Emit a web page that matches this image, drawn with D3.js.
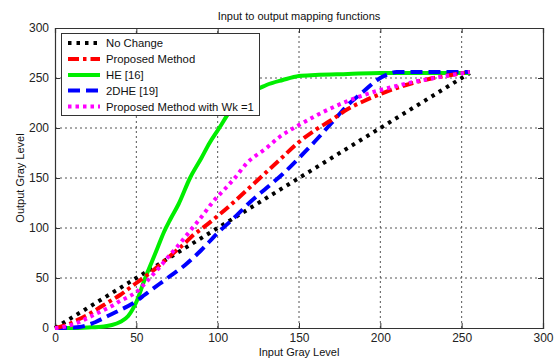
<!DOCTYPE html>
<html>
<head>
<meta charset="utf-8">
<script src="https://cdn.jsdelivr.net/npm/d3@7"></script>
<style>
  body { margin: 0; background: #fff; }
  text { font-family: "Liberation Sans", Arial, sans-serif; }
</style>
</head>
<body>
<svg id="chart" width="556" height="358"></svg>
<script>
// input gray levels (x) sampled for each curve
const noChangeX = [0, 255];
const noChangeY = [0, 255];

const proposedX = [0, 5, 10, 15, 20, 25, 30, 35, 40, 45, 50, 55, 60, 65, 70, 75, 80, 85, 90, 97, 100, 110, 118, 130, 138, 150, 160, 170, 180, 190, 200, 210, 220, 230, 240, 255];
const proposedY = [0, 2, 5, 9, 13, 18, 23, 28, 33, 39, 45, 51, 57, 64, 71, 78, 85, 93, 99, 108, 112, 126, 138, 156, 168, 186, 198, 208, 219, 227, 234, 240, 245, 249, 252, 256];

const heX = [0, 10, 20, 30, 35, 40, 45, 50, 55, 60, 63, 67, 71, 76, 83, 90, 95, 101, 108, 112, 115, 120, 126, 130, 140, 150, 160, 180, 200, 220, 240, 255];
const heY = [0, 0, 0.5, 1.5, 3, 6, 12, 26, 48, 68, 80, 96, 109, 124, 150, 170, 185, 200, 218, 226, 230, 236, 240, 243, 248, 252, 253, 254, 255, 255, 255, 255];

const dheX = [0, 10, 15, 20, 25, 30, 35, 40, 45, 50, 55, 60, 65, 70, 80, 90, 100, 110, 120, 130, 140, 150, 160, 170, 180, 190, 198, 205, 210, 255];
const dheY = [0, 0.5, 1, 3, 6, 10, 14, 18, 22, 27, 33, 39, 45, 51, 63, 78, 95, 110, 126, 140, 154, 170, 187, 205, 223, 237, 248, 254, 256, 256];

const wk1X = [0, 5, 10, 15, 20, 25, 30, 35, 40, 45, 50, 55, 60, 65, 70, 75, 80, 85, 90, 97, 105, 110, 118, 130, 138, 150, 160, 170, 180, 190, 200, 210, 220, 230, 240, 255];
const wk1Y = [0, 1, 3, 6, 10, 14, 18, 22, 27, 31, 36, 44, 53, 62, 72, 81, 91, 101, 111, 126, 140, 149, 165, 180, 191, 203, 212, 220, 227, 233, 238, 242, 246, 249, 252, 256];

const seriesNames = ["No Change", "Proposed Method", "HE [16]", "2DHE [19]", "Proposed Method with Wk =1"];
const xTicks = [0, 50, 100, 150, 200, 250, 300];
const yTicks = [0, 50, 100, 150, 200, 250, 300];

const m = { left: 55, right: 13, top: 28, bottom: 30 }; // margins
const W = 556, H = 358;

const svg = d3.select("#chart");

const x = d3.scaleLinear().domain([0, 300]).range([m.left, W - m.right]);
const y = d3.scaleLinear().domain([0, 300]).range([H - m.bottom, m.top]);

// grid
const grid = svg.append("g").attr("stroke", "#555").attr("stroke-width", 1).attr("stroke-dasharray", "2,3");
xTicks.slice(1, -1).forEach(t => {
  grid.append("line").attr("x1", x(t)).attr("x2", x(t)).attr("y1", y(0)).attr("y2", y(300));
});
yTicks.slice(1, -1).forEach(t => {
  grid.append("line").attr("x1", x(0)).attr("x2", x(300)).attr("y1", y(t)).attr("y2", y(t));
});

// axes
svg.append("g")
  .attr("transform", "translate(0," + y(0) + ")")
  .call(d3.axisBottom(x).tickValues(xTicks).tickSize(-5).tickPadding(5));
svg.append("g")
  .attr("transform", "translate(" + x(0) + ",0)")
  .call(d3.axisLeft(y).tickValues(yTicks).tickSize(-5).tickPadding(6));
svg.append("g")
  .attr("transform", "translate(0," + y(300) + ")")
  .call(d3.axisTop(x).tickValues(xTicks).tickSize(-5).tickFormat(""));
svg.append("g")
  .attr("transform", "translate(" + x(300) + ",0)")
  .call(d3.axisRight(y).tickValues(yTicks).tickSize(-5).tickFormat(""));

svg.selectAll(".domain").attr("stroke", "#333").attr("stroke-width", 1.2);
svg.selectAll(".tick line").attr("stroke", "#333");
svg.selectAll(".tick text").attr("font-size", "12px").attr("fill", "#222")
  .style("font-family", "'Liberation Sans', Arial, sans-serif");

// curves
const series = [
  { xs: noChangeX, ys: noChangeY, color: "#000", width: 4, dash: "3.5,5" },
  { xs: proposedX, ys: proposedY, color: "#ff0000", width: 4, dash: "11,4,3.5,4" },
  { xs: heX, ys: heY, color: "#00ee00", width: 4, dash: null },
  { xs: dheX, ys: dheY, color: "#0000ff", width: 4, dash: "12,6" },
  { xs: wk1X, ys: wk1Y, color: "#ff00ff", width: 4, dash: "3.5,4" }
];

const line = d3.line()
  .x(d => x(d[0]))
  .y(d => y(d[1]))
  .curve(d3.curveMonotoneX);

const drawOrder = [0, 2, 3, 1, 4];
drawOrder.forEach(i => {
  const s = series[i];
  const pts = s.xs.map((v, k) => [v, s.ys[k]]);
  svg.append("path")
    .datum(pts)
    .attr("fill", "none")
    .attr("stroke", s.color)
    .attr("stroke-width", s.width)
    .attr("stroke-dasharray", s.dash)
    .attr("d", line);
});

// legend
const leg = svg.append("g");
leg.append("rect")
  .attr("x", 61.5).attr("y", 33.5).attr("width", 198).attr("height", 82)
  .attr("fill", "#fff").attr("stroke", "#333").attr("stroke-width", 1);
const legY = [43, 59, 75, 90.5, 106.5];
series.forEach((s, i) => {
  leg.append("line")
    .attr("x1", 68).attr("x2", 100)
    .attr("y1", legY[i]).attr("y2", legY[i])
    .attr("stroke", s.color).attr("stroke-width", s.width)
    .attr("stroke-dasharray", s.dash);
  leg.append("text")
    .attr("x", 106).attr("y", legY[i] + 4)
    .attr("font-size", "11.3px").attr("fill", "#111")
    .text(seriesNames[i]);
});

// labels
svg.append("text")
  .attr("x", (x(0) + x(300)) / 2).attr("y", 20)
  .attr("text-anchor", "middle").attr("font-size", "11px").attr("fill", "#111")
  .text("Input to output mapping functions");
svg.append("text")
  .attr("x", (x(0) + x(300)) / 2).attr("y", 356)
  .attr("text-anchor", "middle").attr("font-size", "11px").attr("fill", "#111")
  .text("Input Gray Level");
svg.append("text")
  .attr("transform", "translate(24," + (y(0) + y(300)) / 2 + ") rotate(-90)")
  .attr("text-anchor", "middle").attr("font-size", "11px").attr("fill", "#111")
  .text("Output Gray Level");
</script>
</body>
</html>
